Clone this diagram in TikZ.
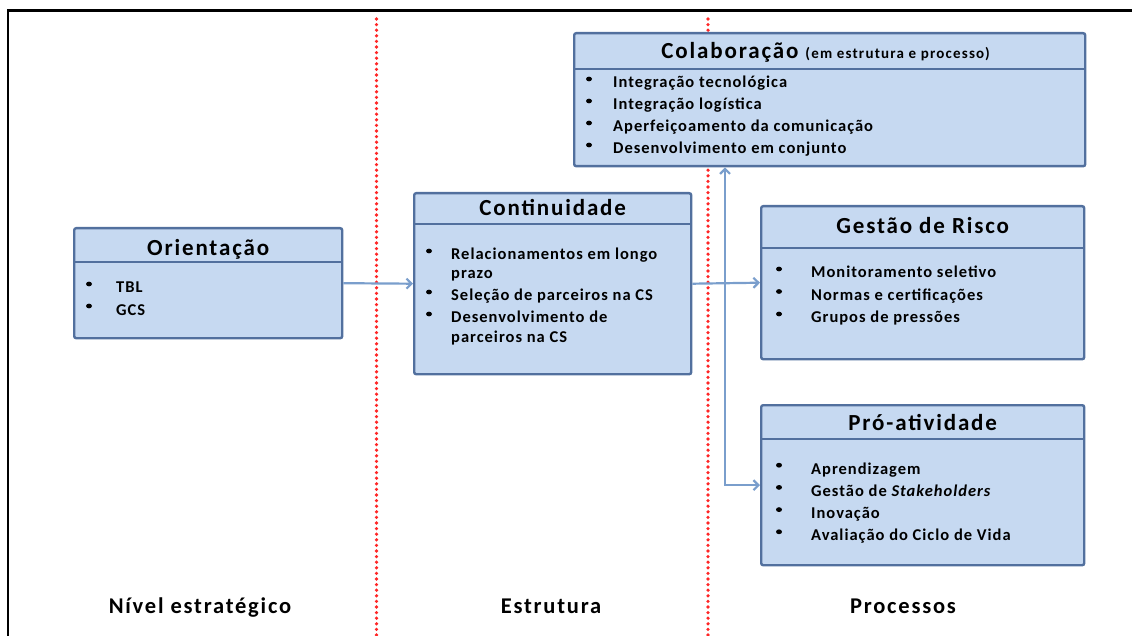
\documentclass[tikz,border=0pt]{standalone}
\usepackage{fontspec}
\setmainfont{Carlito}[LetterSpace=6]
\newfontfamily\cabec{Carlito}[LetterSpace=8]
\usepackage{xcolor}
\usepackage{tikz}
\usetikzlibrary{arrows.meta}

\definecolor{azul}{RGB}{198,217,241}
\definecolor{borda}{RGB}{82,112,158}
\definecolor{linha}{RGB}{122,158,204}

\begin{document}
\begin{tikzpicture}[x=1pt, y=-1pt,
	caixa/.style={draw=borda, fill=azul, line width=2.4pt, rounded corners=2pt, anchor=north west, inner sep=0pt},
	sep/.style={draw=borda, line width=1.6pt},
	titulo/.style={font=\cabec\fontsize{23}{26}\selectfont\bfseries, anchor=base, inner sep=0pt},
	item/.style={font=\fontsize{16.5}{19}\selectfont\bfseries, anchor=base west, inner sep=0pt},
	ponto/.style={fill=black},
	seta/.style={draw=linha, line width=2.2pt, -{Straight Barb[length=5pt,width=10pt]}},
	divisa/.style={draw=red!85, line width=3.6pt, dash pattern=on 0pt off 5.6pt, line cap=round},
	nivel/.style={font=\cabec\fontsize{22.5}{26}\selectfont\bfseries, anchor=base, inner sep=0pt}]
	\useasboundingbox (0,0) rectangle (1132,636);

	%Moldura e divisas
	\draw[line width=2.6pt] (8,636) -- (8,10.5) -- (1132,10.5);
	\draw[divisa] (376.5,19) -- (376.5,636);
	\draw[divisa] (708,19) -- (708,636);

	%Caixas aqui
	\node[caixa, minimum width=268pt, minimum height=110pt] (orient) at (73,227) {};
	\node[caixa, minimum width=277pt, minimum height=181pt] (cont) at (413,192) {};
	\node[caixa, minimum width=511pt, minimum height=133pt] (colab) at (573,32) {};
	\node[caixa, minimum width=323pt, minimum height=153pt] (risco) at (760,205) {};
	\node[caixa, minimum width=323pt, minimum height=160pt] (proat) at (760,404) {};

	\draw[sep] (orient.west |- 0,262) -- (orient.east |- 0,262);
	\draw[sep] (cont.west |- 0,224) -- (cont.east |- 0,224);
	\draw[sep] (colab.west |- 0,69) -- (colab.east |- 0,69);
	\draw[sep] (risco.west |- 0,248) -- (risco.east |- 0,248);
	\draw[sep] (proat.west |- 0,439) -- (proat.east |- 0,439);

	%Titulos
	\node[titulo] (orient-t) at (orient.north |- 0,256) {Orientação};
	\node[titulo] (cont-t) at (cont.north |- 0,216) {Continuidade};
	\node[titulo] (colab-t) at ([xshift=-4pt]colab.north |- 0,59) {Colaboração {\fontsize{15}{17}\selectfont (em estrutura e processo)}};
	\node[titulo] (risco-t) at (risco.north |- 0,234) {Gestão de Risco};
	\node[titulo] (proat-t) at (proat.north |- 0,430) {Pró-atividade};

	%Itens
	\foreach \t [count=\i] in {TBL,GCS}{
		\node[item] (orient-\i) at (116,{271+22*\i}) {\t};
		\fill[ponto] (89,{262+22*\i}) ellipse (3pt and 2.4pt);
	}
	\node[item] (cont-1) at (451,260) {Relacionamentos em longo};
	\node[item] (cont-1b) at (451,279) {prazo};
	\node[item] (cont-2) at (451,301) {Seleção de parceiros na CS};
	\node[item] (cont-3) at (451,323) {Desenvolvimento de};
	\node[item] (cont-3b) at (451,342) {parceiros na CS};
	\foreach \y in {251,292,314}
		\fill[ponto] (429,\y) ellipse (3pt and 2.4pt);
	\foreach \t [count=\i] in {Integração tecnológica,Integração logística,Aperfeiçoamento da comunicação,Desenvolvimento em conjunto}{
		\node[item] (colab-\i) at (613,{66+22*\i}) {\t};
		\fill[ponto] (589,{57+22*\i}) ellipse (3pt and 2.4pt);
	}
	\foreach \t [count=\i] in {Monitoramento seletivo,Normas e certificações,Grupos de pressões}{
		\node[item] (risco-\i) at (811,{255.5+22.5*\i}) {\t};
		\fill[ponto] (779,{246.5+22.5*\i}) ellipse (3pt and 2.4pt);
	}
	\foreach \t [count=\i] in {Aprendizagem,Gestão de \textit{Stakeholders},Inovação,Avaliação do Ciclo de Vida}{
		\node[item] (proat-\i) at (811,{452+22.2*\i}) {\t};
		\fill[ponto] (779,{443+22.2*\i}) ellipse (3pt and 2.4pt);
	}

	%Setas aqui
	\coordinate (ramo) at (725,282);
	\draw[seta] (orient.east) -- (cont.west);
	\draw[seta] (cont.east) -- (risco.west);
	\draw[seta] (ramo) -- (ramo |- colab.south);
	\draw[seta] (ramo) |- (proat.west);

	%Niveis
	\node[nivel] (n-estrat) at (200,613) {Nível estratégico};
	\node[nivel] (n-estrut) at (551,613) {Estrutura};
	\node[nivel] (n-proc) at (903,613) {Processos};
\end{tikzpicture}
\end{document}
